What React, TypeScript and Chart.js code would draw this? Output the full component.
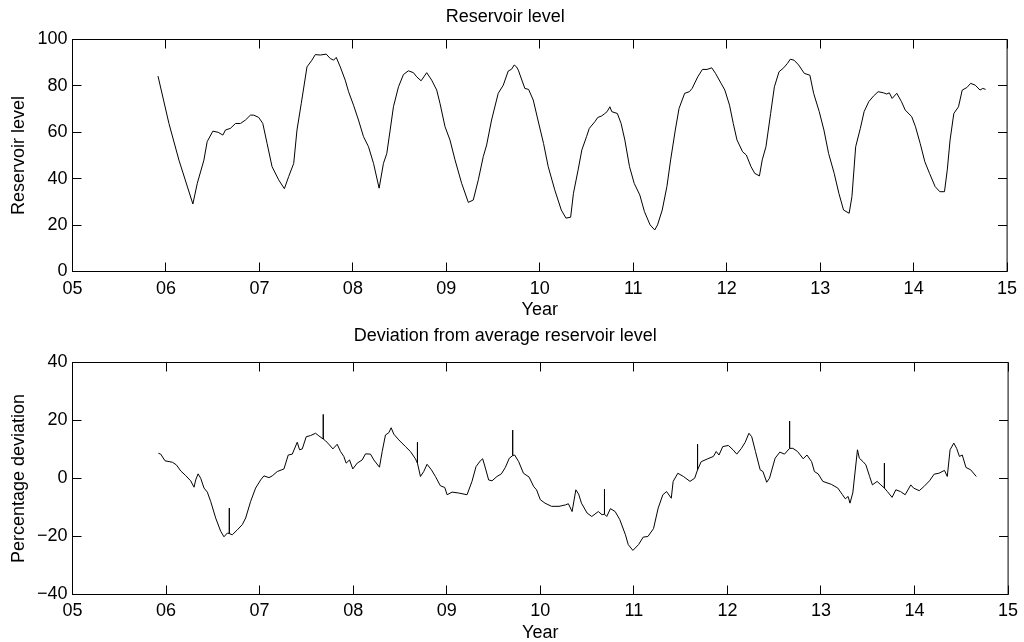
import { useEffect, useRef } from 'react';
import { Chart, registerables } from 'chart.js';

Chart.register(...registerables);

// ---------- data ----------
const xTickYears = [5, 6, 7, 8, 9, 10, 11, 12, 13, 14, 15];

const levelYears = [
  5.915, 6.032, 6.139, 6.288, 6.335, 6.406, 6.441, 6.502, 6.559, 6.609, 6.637, 6.69, 6.744, 6.797, 6.851,
  6.904, 6.94, 6.993, 7.036, 7.082, 7.135, 7.206, 7.267, 7.313, 7.367, 7.402, 7.448, 7.509, 7.562, 7.598,
  7.651, 7.715, 7.758, 7.794, 7.822, 7.865, 7.918, 7.954, 8.007, 8.06, 8.114, 8.167, 8.221, 8.281, 8.327,
  8.363, 8.399, 8.434, 8.488, 8.541, 8.594, 8.648, 8.683, 8.73, 8.79, 8.843, 8.897, 8.932, 8.986, 9.039,
  9.093, 9.164, 9.235, 9.288, 9.342, 9.395, 9.431, 9.484, 9.555, 9.609, 9.662, 9.698, 9.726, 9.751,
  9.77, 9.84, 9.88, 9.93, 9.98, 10.04, 10.09, 10.16, 10.23, 10.28, 10.33, 10.36, 10.41, 10.45, 10.5,
  10.53, 10.59, 10.62, 10.66, 10.69, 10.72, 10.75, 10.77, 10.83, 10.87, 10.91, 10.96, 11.01, 11.07, 11.12,
  11.18, 11.23, 11.26, 11.31, 11.36, 11.4, 11.45, 11.49, 11.55, 11.6, 11.63, 11.69, 11.74, 11.79, 11.84,
  11.88, 11.94, 11.98, 12.03, 12.07, 12.11, 12.17, 12.21, 12.26, 12.3, 12.35, 12.38, 12.42, 12.47, 12.51,
  12.56, 12.61, 12.65, 12.68, 12.72, 12.77, 12.83, 12.89, 12.93, 12.99, 13.04, 13.09, 13.15, 13.2, 13.25,
  13.31, 13.34, 13.38, 13.43, 13.47, 13.52, 13.57, 13.62, 13.68, 13.71, 13.74, 13.77, 13.82, 13.87, 13.91,
  13.98, 14.02, 14.07, 14.12, 14.17, 14.23, 14.28, 14.33, 14.36, 14.39, 14.43, 14.48, 14.52, 14.57, 14.61,
  14.66, 14.71, 14.74, 14.77,
];
const levelValues = [
  84.2, 63.8, 48.0, 29.1, 38.0, 48.0, 56.0, 60.5, 60.0, 58.8, 61.0, 61.7, 63.8, 63.8, 65.3,
  67.4, 67.4, 66.4, 63.8, 55.2, 45.2, 39.5, 35.7, 40.9, 46.6, 61.0, 72.5, 88.2, 91.1, 93.5,
  93.3, 93.7, 91.8, 91.1, 92.3, 88.2, 82.5, 77.5, 71.7, 65.3, 58.1, 53.8, 46.6, 35.9, 46.6,
  50.9, 61.0, 71.0, 79.6, 84.9, 86.5, 85.7, 83.9, 82.2, 85.7, 82.5, 78.2, 72.5, 62.4, 56.7,
  48.1, 38.0, 29.8, 30.8, 39.5, 49.5, 54.5, 65.3, 76.8, 80.3, 86.4, 87.2, 89.0, 88.2,
  86.8, 78.9, 78.5, 73.9, 65.3, 55.2, 45.2, 35.2, 26.5, 23.0, 23.4, 33.7, 43.8, 52.4, 58.1,
  61.7, 64.6, 66.4, 67.0, 67.9, 68.9, 71.0, 68.9, 68.1, 63.8, 56.7, 45.2, 38.0, 33.0, 25.8,
  20.1, 17.9, 20.1, 26.5, 36.6, 48.1, 61.0, 70.3, 76.8, 77.5, 78.9, 83.9, 87.1, 87.1, 87.8,
  85.4, 81.1, 78.2, 71.7, 63.8, 56.7, 51.6, 50.2, 45.2, 42.3, 41.2, 48.1, 53.8, 68.1, 79.6,
  86.1, 87.8, 89.7, 91.5, 91.1, 89.0, 85.4, 84.6, 76.8, 68.9, 61.0, 50.9, 42.3, 33.7, 26.5,
  25.1, 32.3, 53.8, 61.7, 68.9, 73.2, 75.6, 77.5, 77.0, 76.5, 77.0, 74.6, 76.8, 73.2, 69.6,
  66.7, 62.4, 55.2, 47.3, 42.3, 36.6, 34.4, 34.4, 43.8, 56.7, 68.1, 71.0, 78.2, 79.3, 81.1,
  80.3, 78.2, 78.9, 78.5,
];

const deviationYears = [
  5.918, 5.943, 5.989, 6.068, 6.11, 6.157, 6.21, 6.263, 6.299, 6.317, 6.342, 6.37, 6.406, 6.441, 6.477,
  6.53, 6.584, 6.619, 6.655, 6.676, 6.676, 6.676, 6.708, 6.762, 6.815, 6.851, 6.904, 6.957, 7.011, 7.046,
  7.1, 7.135, 7.189, 7.26, 7.306, 7.349, 7.402, 7.427, 7.456, 7.498, 7.544, 7.598, 7.633, 7.68, 7.68,
  7.68, 7.705, 7.74, 7.783, 7.829, 7.865, 7.9, 7.925, 7.961, 7.996, 8.043, 8.096, 8.132, 8.185, 8.221,
  8.281, 8.31, 8.345, 8.381, 8.406, 8.434, 8.488, 8.559, 8.612, 8.665, 8.687, 8.687, 8.687, 8.719, 8.754,
  8.79, 8.836, 8.879, 8.932, 8.979, 9.004, 9.057, 9.128, 9.217, 9.27, 9.313, 9.359, 9.384, 9.413, 9.448,
  9.484, 9.537, 9.584, 9.626, 9.669, 9.705, 9.705, 9.705, 9.726, 9.769,
  9.82, 9.88, 9.93, 9.96, 10.0, 10.05, 10.12, 10.2, 10.27, 10.3, 10.34, 10.38, 10.41, 10.44, 10.5,
  10.55, 10.62, 10.66, 10.686, 10.686, 10.686, 10.71, 10.75, 10.8, 10.85, 10.91, 10.94, 10.99, 11.05, 11.1,
  11.15, 11.21, 11.26, 11.31, 11.35, 11.4, 11.42, 11.47, 11.53, 11.6, 11.65, 11.681, 11.681, 11.681, 11.72,
  11.79, 11.85, 11.88, 11.91, 11.95, 12.01, 12.06, 12.1, 12.15, 12.19, 12.23, 12.26, 12.3, 12.35, 12.38,
  12.42, 12.45, 12.51, 12.56, 12.61, 12.665, 12.665, 12.665, 12.7, 12.75, 12.81, 12.85, 12.9, 12.93, 12.97,
  13.02, 13.11, 13.18, 13.23, 13.26, 13.29, 13.31, 13.34, 13.39, 13.41, 13.45, 13.48, 13.52, 13.55, 13.6,
  13.64, 13.678, 13.678, 13.678, 13.71, 13.76, 13.8, 13.85, 13.9, 13.96, 13.99, 14.05, 14.1, 14.16, 14.21,
  14.26, 14.32, 14.35, 14.38, 14.42, 14.45, 14.48, 14.51, 14.55, 14.6, 14.66,
];
const deviationValues = [
  8.7, 8.4, 6.1, 5.6, 4.7, 2.6, 1.0, -0.8, -3.0, -0.5, 1.6, 0.1, -3.3, -4.7, -7.9,
  -13.6, -18.2, -20.1, -18.8, -19.0, -10.2, -19.0, -19.4, -17.7, -15.9, -13.6, -7.9, -3.3, -0.5, 0.9,
  0.3, 0.9, 2.4, 3.3, 8.1, 8.4, 12.5, 9.9, 10.2, 14.4, 14.8, 15.6, 14.7, 13.6, 22.1,
  13.6, 13.0, 11.8, 10.2, 11.8, 9.3, 7.6, 5.3, 6.4, 3.3, 5.3, 6.4, 8.5, 8.4, 6.4,
  3.9, 9.3, 15.0, 15.8, 17.5, 15.3, 13.3, 11.0, 9.3, 6.8, 5.3, 12.5, 5.3, 0.7, 2.4,
  4.9, 3.0, 0.7, -2.5, -3.1, -5.6, -4.7, -5.0, -5.6, -1.0, 4.1, 6.1, 6.8, 3.6, -0.5,
  -0.8, 0.7, 1.6, 3.8, 7.0, 7.9, 16.7, 7.9, 8.1, 5.8,
  1.8, 0.5, -2.8, -3.9, -7.3, -8.5, -9.6, -9.6, -9.1, -8.7, -11.4, -3.9, -5.4, -8.5, -11.9,
  -13.1, -11.4, -12.5, -12.3, -3.7, -12.3, -13.1, -10.4, -11.4, -14.2, -19.4, -22.8, -24.8, -22.8, -20.2,
  -20.0, -17.3, -10.2, -5.6, -4.5, -6.8, -1.0, 1.8, 0.7, -1.0, 0.1, 3.0, 11.8, 3.0, 5.8,
  6.8, 7.6, 9.3, 8.1, 11.0, 11.4, 9.9, 8.4, 10.4, 12.5, 15.6, 14.4, 9.3, 3.0, 2.4,
  -1.3, 0.1, 7.0, 9.1, 8.4, 10.4, 19.8, 10.4, 10.4, 9.3, 6.8, 8.1, 5.8, 2.4, 1.6,
  -1.0, -2.0, -3.3, -5.6, -7.0, -6.2, -8.5, -5.0, 9.9, 7.0, 5.8, 4.7, 0.7, -2.2, -1.0,
  -2.2, -3.3, 5.3, -3.3, -4.5, -6.5, -3.9, -4.5, -5.6, -2.2, -3.3, -4.2, -2.8, -0.8, 1.5,
  1.8, 2.8, 0.7, 9.9, 12.2, 10.4, 7.6, 8.1, 3.8, 3.0, 0.7,
];

const levelYTicks = [0, 20, 40, 60, 80, 100];
const deviationYTicks = [-40, -20, 0, 20, 40];

// ---------- helpers ----------
const FONT = '"Liberation Sans", Arial, Helvetica, sans-serif';
const FS = 18;
Chart.defaults.font.family = FONT;
Chart.defaults.color = '#000';

const fmtYear = (v: number) => String(Math.round(v)).padStart(2, '0');
const fmtNum = (v: number) => (v < 0 ? '\u2212' + String(Math.abs(v)) : String(v));

const framePlugin = {
  id: 'frameTicks',
  afterDraw(chart: any) {
    const { ctx, chartArea: a, scales } = chart;
    const tl = 9;
    ctx.save();
    ctx.strokeStyle = '#000';
    ctx.lineWidth = 1;
    ctx.beginPath();
    for (const t of scales.x.ticks) {
      const px = Math.floor(scales.x.getPixelForValue(t.value)) + 0.5;
      ctx.moveTo(px, a.bottom);
      ctx.lineTo(px, a.bottom - tl);
      ctx.moveTo(px, a.top);
      ctx.lineTo(px, a.top + tl);
    }
    for (const t of scales.y.ticks) {
      const py = Math.floor(scales.y.getPixelForValue(t.value)) + 0.5;
      ctx.moveTo(a.left, py);
      ctx.lineTo(a.left + tl, py);
      ctx.moveTo(a.right, py);
      ctx.lineTo(a.right - tl, py);
    }
    ctx.stroke();
    ctx.strokeRect(a.left, a.top, a.right - a.left, a.bottom - a.top);
    ctx.restore();
  },
};

type Spec = {
  title: string;
  yTitle: string;
  years: number[];
  values: number[];
  yTicks: number[];
  titlePadTop: number;
  titlePadBottom: number;
  xAxisHeight: number;
  xTickPad: number;
  xTitlePad: number;
};

function makeConfig(s: Spec): any {
  const pts = s.years.map((x, i) => ({ x, y: s.values[i] }));
  return {
    type: 'scatter',
    data: {
      datasets: [
        {
          data: pts,
          showLine: true,
          borderColor: '#000',
          backgroundColor: '#000',
          borderWidth: 1,
          pointRadius: 0,
          tension: 0,
        },
      ],
    },
    options: {
      responsive: false,
      animation: false,
      events: [],
      layout: { padding: { left: 0, right: 13.5, top: 0, bottom: 0 } },
      plugins: {
        legend: { display: false },
        tooltip: { enabled: false },
        title: {
          display: true,
          text: s.title,
          color: '#000',
          font: { size: FS, weight: 'normal', family: FONT },
          padding: { top: s.titlePadTop, bottom: s.titlePadBottom },
        },
      },
      scales: {
        x: {
          type: 'linear',
          min: xTickYears[0],
          max: xTickYears[xTickYears.length - 1],
          grid: { display: false, drawTicks: false },
          border: { display: false },
          afterBuildTicks: (scale: any) => {
            scale.ticks = xTickYears.map((v) => ({ value: v }));
          },
          afterFit: (scale: any) => {
            scale.height = s.xAxisHeight;
          },
          ticks: {
            autoSkip: false,
            maxRotation: 0,
            padding: s.xTickPad,
            font: { size: FS },
            color: '#000',
            callback: (v: any) => fmtYear(Number(v)),
          },
          title: {
            display: true,
            text: 'Year',
            color: '#000',
            font: { size: FS, lineHeight: 1 },
            padding: { top: 0, bottom: s.xTitlePad },
          },
        },
        y: {
          type: 'linear',
          min: s.yTicks[0],
          max: s.yTicks[s.yTicks.length - 1],
          grid: { display: false, drawTicks: false },
          border: { display: false },
          afterBuildTicks: (scale: any) => {
            scale.ticks = s.yTicks.map((v) => ({ value: v }));
          },
          afterFit: (scale: any) => {
            scale.width = 72.5;
          },
          ticks: {
            autoSkip: false,
            padding: 5,
            font: { size: FS },
            color: '#000',
            callback: (v: any) => fmtNum(Number(v)),
          },
          title: {
            display: true,
            text: s.yTitle,
            color: '#000',
            font: { size: FS, lineHeight: 1 },
            padding: { top: 9.8, bottom: 0 },
          },
        },
      },
    },
    plugins: [framePlugin],
  };
}

function Panel({ spec, top }: { spec: Spec; top: number }) {
  const ref = useRef<HTMLCanvasElement | null>(null);
  useEffect(() => {
    if (!ref.current) return;
    const chart = new Chart(ref.current, makeConfig(spec));
    return () => chart.destroy();
  }, [spec]);
  return (
    <canvas
      ref={ref}
      width={1024}
      height={321}
      style={{ position: 'absolute', left: 0, top, width: 1024, height: 321, display: 'block' }}
    />
  );
}

const topSpec: Spec = {
  title: 'Reservoir level',
  yTitle: 'Reservoir level',
  years: levelYears,
  values: levelValues,
  yTicks: levelYTicks,
  titlePadTop: 6.7,
  titlePadBottom: 11.2,
  xAxisHeight: 49.5,
  xTickPad: 6.9,
  xTitlePad: 2,
};

const bottomSpec: Spec = {
  title: 'Deviation from average reservoir level',
  yTitle: 'Percentage deviation',
  years: deviationYears,
  values: deviationValues,
  yTicks: deviationYTicks,
  titlePadTop: 4.2,
  titlePadBottom: 15.7,
  xAxisHeight: 47.5,
  xTickPad: 5.9,
  xTitlePad: 0,
};

export default function App() {
  return (
    <div
      style={{
        position: 'absolute',
        left: 0,
        top: 0,
        width: 1024,
        height: 642,
        background: '#fff',
        overflow: 'hidden',
      }}
    >
      <Panel spec={topSpec} top={0} />
      <Panel spec={bottomSpec} top={321} />
    </div>
  );
}
